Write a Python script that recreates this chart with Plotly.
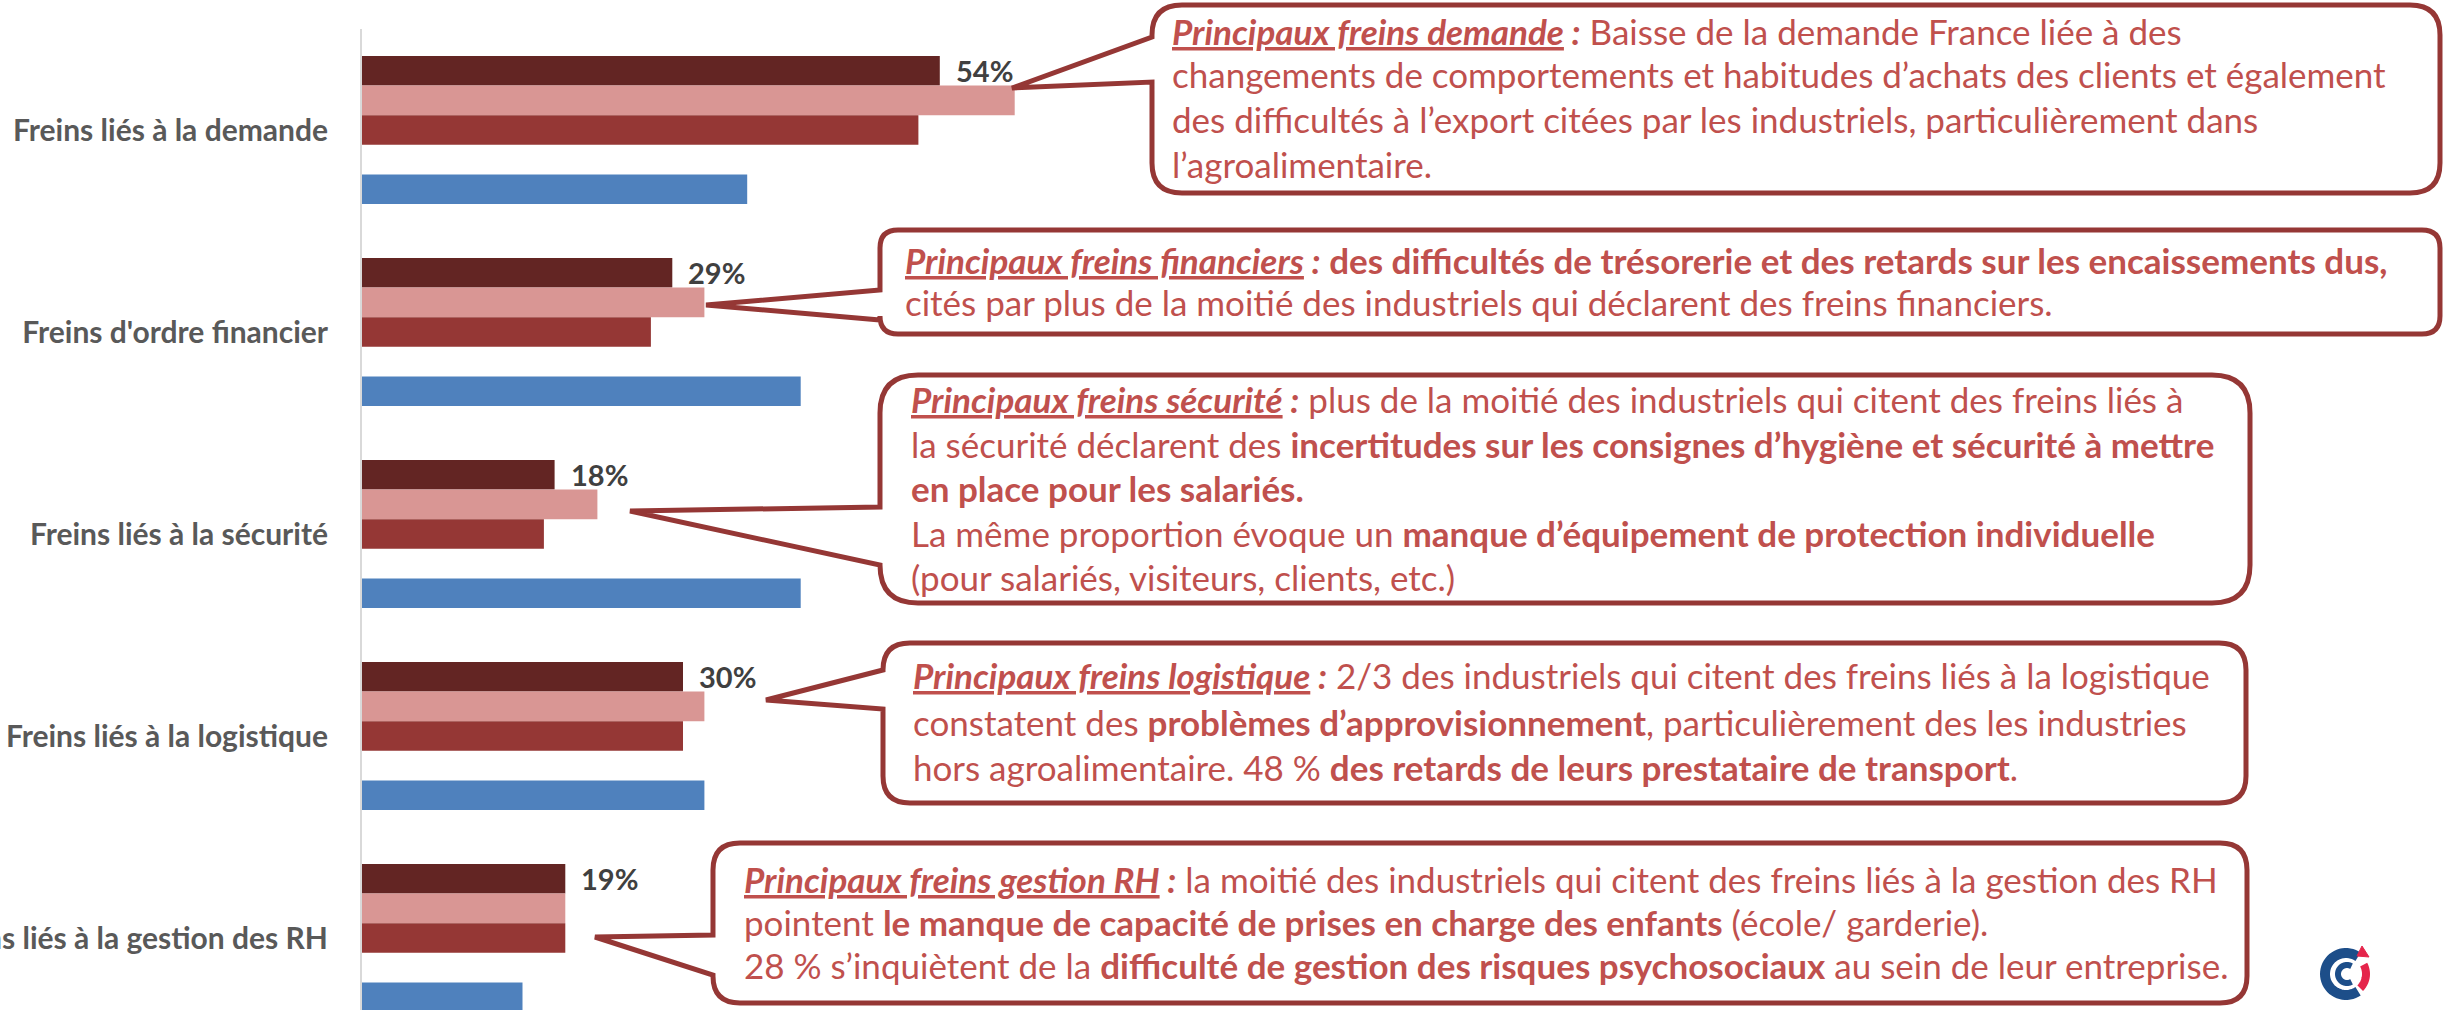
import math
import plotly.graph_objects as go

W, H = 2443, 1010

# ---------------------------------------------------------------------
# Data
# ---------------------------------------------------------------------
categories = [
    "Freins liés à la demande",
    "Freins d'ordre financier",
    "Freins liés à la sécurité",
    "Freins liés à la logistique",
    "Freins liés à la gestion des RH",
]
serie_sombre = [54, 29, 18, 30, 19]   # labelled series
serie_rose = [61, 32, 22, 32, 19]
serie_rouge = [52, 27, 17, 30, 19]
serie_vide = [0, 0, 0, 0, 0]          # empty slot in each group
serie_bleue = [36, 41, 41, 32, 15]

couleurs = ["#632523", "#D99694", "#953735", "#FFFFFF", "#4F81BD"]
series = [serie_sombre, serie_rose, serie_rouge, serie_vide, serie_bleue]

FONT = "Lato, 'Open Sans', sans-serif"
TXT = "#C0504D"
BORD = "#953735"
BARGAP = 0.267


def px(x):
    return x / W


def py(y):
    return 1 - y / H


fig = go.Figure()
for vals, col in zip(series, couleurs):
    fig.add_trace(go.Bar(
        y=categories, x=vals, orientation="h",
        marker=dict(color=col, line=dict(width=0)),
        hoverinfo="skip", showlegend=False,
    ))

# data labels on the dark series
w = (1 - BARGAP) / len(series)
annotations = []
for i, v in enumerate(serie_sombre):
    annotations.append(dict(
        x=v, y=i - 2 * w, xref="x", yref="y",
        text="<b>%d%%</b>" % v, showarrow=False,
        xanchor="left", yanchor="middle", xshift=14,
        font=dict(family=FONT, size=29, color="#404040"),
    ))

# ---------------------------------------------------------------------
# Callouts (rounded boxes with a tail pointing at the bars)
# ---------------------------------------------------------------------
def callout_path(x0, y0, x1, y1, r, tip, b_top, b_bot):
    pts = [
        ("M", x0 + r, y0), ("L", x1 - r, y0),
        ("Q", x1, y0, x1, y0 + r), ("L", x1, y1 - r),
        ("Q", x1, y1, x1 - r, y1), ("L", x0 + r, y1),
        ("Q", x0, y1, x0, y1 - r), ("L", x0, b_bot),
        ("L", tip[0], tip[1]), ("L", x0, b_top),
        ("L", x0, y0 + r), ("Q", x0, y0, x0 + r, y0),
    ]
    s = ""
    for p in pts:
        cmd, coords = p[0], p[1:]
        parts = []
        for k in range(0, len(coords), 2):
            parts.append("%.5f,%.5f" % (px(coords[k]), py(coords[k + 1])))
        s += cmd + " ".join(parts) + " "
    return s + "Z"


boxes = [
    (1152, 5, 2440, 193, 30, (1012, 88), 37, 82),
    (880, 230, 2440, 334, 18, (706, 305), 290, 320),
    (880, 375, 2250, 603, 38, (630, 511), 507, 565),
    (883, 643, 2246, 803, 27, (766, 700), 670, 709),
    (713, 843, 2247, 1003, 27, (595, 937), 935, 975),
]
shapes = []
for b in boxes:
    shapes.append(dict(
        type="path", xref="paper", yref="paper", path=callout_path(*b),
        line=dict(color=BORD, width=5), fillcolor="white", layer="above",
    ))

titre = lambda t: "<i><b><u>%s</u></b></i><i><b> :</b></i>" % t

textes = [
    (1170, [44, 87, 132, 177], [
        titre("Principaux freins demande") + " Baisse de la demande France liée à des",
        "changements de comportements et habitudes d’achats des clients et également",
        "des difficultés à l’export citées par les industriels, particulièrement dans",
        "l’agroalimentaire.",
    ]),
    (903, [273, 315], [
        titre("Principaux freins financiers") + "<b> des difficultés de trésorerie et des retards sur les encaissements dus,</b>",
        "cités par plus de la moitié des industriels qui déclarent des freins financiers.",
    ]),
    (909, [412, 457, 501, 546, 590], [
        titre("Principaux freins sécurité") + " plus de la moitié des industriels qui citent des freins liés à",
        "la sécurité déclarent des <b>incertitudes sur les consignes d’hygiène et sécurité à mettre</b>",
        "<b>en place pour les salariés.</b>",
        "La même proportion évoque un <b>manque d’équipement de protection individuelle</b>",
        "(pour salariés, visiteurs, clients, etc.)",
    ]),
    (911, [688, 735, 780], [
        titre("Principaux freins logistique") + " 2/3 des industriels qui citent des freins liés à la logistique",
        "constatent des <b>problèmes d’approvisionnement</b>, particulièrement des les industries",
        "hors agroalimentaire. 48 % <b>des retards de leurs prestataire de transport</b>.",
    ]),
    (742, [892, 935, 978], [
        titre("Principaux freins gestion RH") + " la moitié des industriels qui citent des freins liés à la gestion des RH",
        "pointent <b>le manque de capacité de prises en charge des enfants</b> (école/ garderie).",
        "28 % s’inquiètent de la <b>difficulté de gestion des risques psychosociaux</b> au sein de leur entreprise.",
    ]),
]
FS = 35
for x0, bases, lignes in textes:
    for yb, ligne in zip(bases, lignes):
        annotations.append(dict(
            x=px(x0), y=py(yb - 0.38 * FS), xref="paper", yref="paper",
            text=ligne, showarrow=False, xanchor="left", yanchor="middle",
            align="left", font=dict(family=FONT, size=FS, color=TXT),
        ))

# ---------------------------------------------------------------------
# small CCI logo, bottom right
# ---------------------------------------------------------------------
def arc(cx, cy, r, a0, a1, n=40):
    s = ""
    for k in range(n + 1):
        a = math.radians(a0 + (a1 - a0) * k / n)
        s += ("M" if k == 0 else "L") + "%.5f,%.5f " % (px(cx + r * math.cos(a)), py(cy - r * math.sin(a)))
    return s


cx, cy = 2346, 974
shapes.append(dict(type="path", xref="paper", yref="paper", path=arc(cx, cy, 21, 55, 305),
                   line=dict(color="#1D4E89", width=10)))
shapes.append(dict(type="path", xref="paper", yref="paper", path=arc(cx + 1, cy, 9, 60, 300),
                   line=dict(color="#1D4E89", width=6)))
shapes.append(dict(type="path", xref="paper", yref="paper", path=arc(cx, cy, 20, -45, 28),
                   line=dict(color="#E5254B", width=8)))
shapes.append(dict(type="path", xref="paper", yref="paper",
                   path="M%.5f,%.5f L%.5f,%.5f L%.5f,%.5f Z" % (px(2357), py(956), px(2362), py(946), px(2369), py(957)),
                   fillcolor="#E5254B", line=dict(color="#E5254B", width=1)))

fig.update_layout(
    width=W, height=H,
    margin=dict(l=0, r=0, t=0, b=0, autoexpand=False),
    paper_bgcolor="white", plot_bgcolor="white",
    barmode="group", bargap=BARGAP, bargroupgap=0,
    xaxis=dict(domain=[px(362), 1], range=[0, 2081 / 10.7], visible=False,
               showgrid=False, zeroline=False, automargin=False),
    yaxis=dict(domain=[0, py(29)], range=[-0.5 + 981 / 202, -0.5],
               showgrid=False, zeroline=False, ticks="", automargin=False,
               showline=True, linecolor="#D9D9D9", linewidth=2,
               ticklabelstandoff=26,
               tickfont=dict(family=FONT, size=30, color="#595959", weight="bold")),
    shapes=shapes,
    annotations=annotations,
)

# the page's default body margin would shift the figure by 8 px
fig.write_html("out.html", config={"displayModeBar": False},
               post_script="document.body.style.margin='0px';")
